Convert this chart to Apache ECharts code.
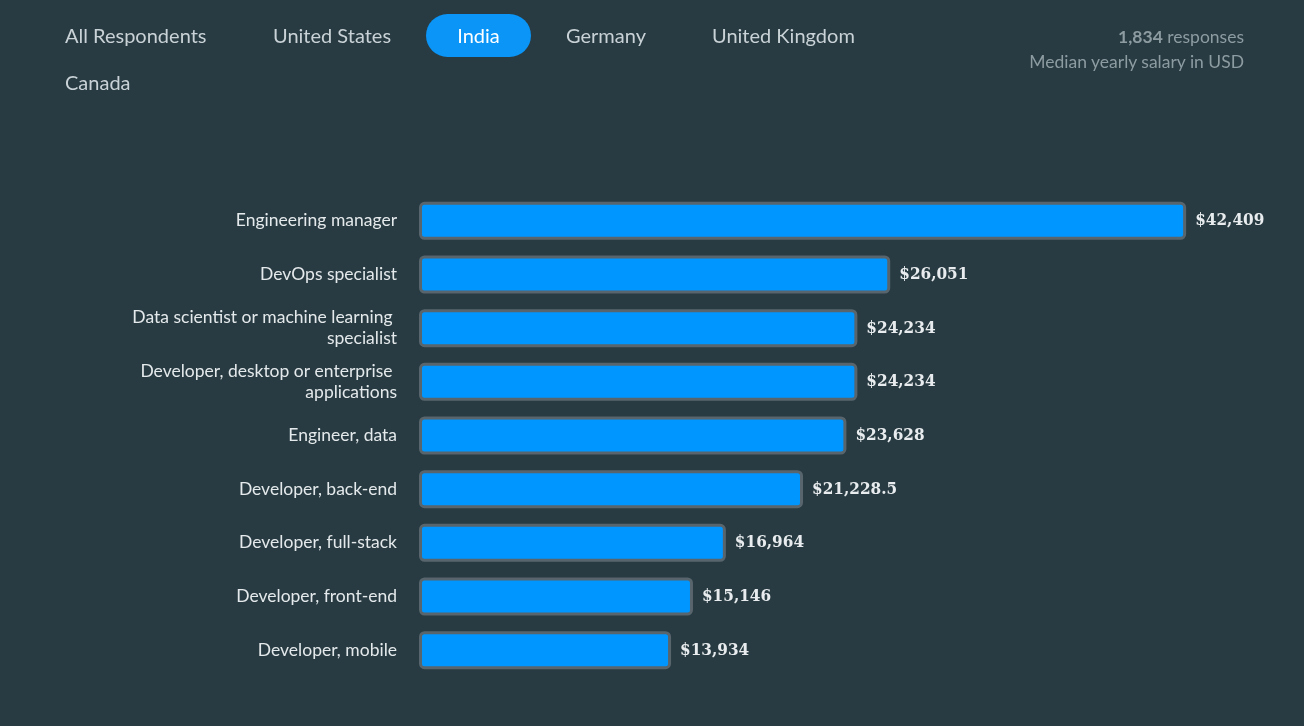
<!DOCTYPE html>
<html><head><meta charset="utf-8">
<script src="https://cdn.jsdelivr.net/npm/echarts@6/dist/echarts.min.js"></script>
<style>
html,body{margin:0;padding:0;background:#283b42;width:1304px;height:726px;overflow:hidden;font-family:"Source Sans Pro",Lato,"Noto Sans",sans-serif}
#chart{position:absolute;left:0;top:0;width:1304px;height:726px}
.tab{position:absolute;font-size:20px;color:#c9d2d6;line-height:43px;height:43px;white-space:nowrap}
.tab.active{background:#0a95f7;color:#fff;border-radius:22px;text-align:center}
.meta{position:absolute;right:60px;text-align:right;color:#8d9ca1;font-size:17.5px;line-height:25px;top:24px}
.meta b{color:#8d9ca1}
</style></head>
<body>
<div id="chart"></div>
<div id="tabs"></div>
<div class="meta"><b id="resp"></b> responses<br>Median yearly salary in USD</div>
<script>
const tabs = ["All Respondents","United States","India","Germany","United Kingdom","Canada"];
const activeTab = "India";
const responses = "1,834";
const categories = [
  "Engineering manager",
  "DevOps specialist",
  "Data scientist or machine learning specialist",
  "Developer, desktop or enterprise applications",
  "Engineer, data",
  "Developer, back-end",
  "Developer, full-stack",
  "Developer, front-end",
  "Developer, mobile"
];
const salaries = [42409, 26051, 24234, 24234, 23628, 21228.5, 16964, 15146, 13934];

// tabs layout
const tabPos = [[65,14,null],[273,14,null],[426,14,105],[566,14,null],[712,14,null],[65,61,null]];
const tabsEl = document.getElementById('tabs');
tabs.forEach((t,i)=>{
  const d=document.createElement('div');
  d.className='tab'+(t===activeTab?' active':'');
  d.textContent=t;
  d.style.left=tabPos[i][0]+'px';d.style.top=tabPos[i][1]+'px';
  if(tabPos[i][2]) d.style.width=tabPos[i][2]+'px';
  tabsEl.appendChild(d);
});
document.getElementById('resp').textContent=responses;

const chart = echarts.init(document.getElementById('chart'));
chart.setOption({
  backgroundColor:'transparent',
  animation:false,
  grid:{left:419,top:194,height:483,width:814,containLabel:false},
  xAxis:{type:'value',min:0,max:45000,show:false},
  yAxis:{type:'category',data:categories,inverse:true,
    axisLine:{show:false},axisTick:{show:false},
    axisLabel:{color:'#e4e9eb',fontSize:17.5,fontFamily:'Lato, "Noto Sans", sans-serif',margin:22,
      width:275,overflow:'break',lineHeight:21,align:'right'}},
  series:[{type:'bar',data:salaries,barWidth:38,
    itemStyle:{color:'#0096ff',borderColor:'#58656c',borderWidth:3,borderRadius:4},
    label:{show:true,position:'right',distance:9,color:'#e8ecee',fontWeight:'bold',fontSize:17,
      fontFamily:'"DejaVu Serif Condensed", "DejaVu Serif", serif',
      formatter:p=>'$'+p.value.toLocaleString('en-US',{maximumFractionDigits:1})}
  }]
});
</script>
</body></html>
